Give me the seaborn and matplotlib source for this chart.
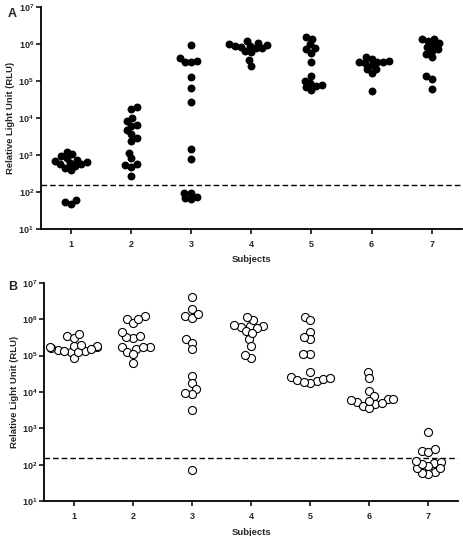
import numpy as np
import pandas as pd
import matplotlib
matplotlib.use("Agg")
import matplotlib.pyplot as plt
import seaborn as sns

# Panel A: filled circles, RLU per subject
a_s1 = [1220, 555, 450, 655, 726, 912, 840, 391, 555, 1030, 511, 668, 600, 60, 48, 52]
a_s2 = [9680, 6530, 3580, 1146, 521, 17660, 6140, 2414, 822, 269, 4690, 568, 19190, 8030, 2790, 481]
a_s3 = [923000, 342000, 328000, 403000, 321000, 129000, 62500, 27300, 1410, 773, 71, 95, 95, 64, 67]
a_s4 = [1050000, 850000, 780000, 1150000, 930000, 830000, 590000, 870000, 750000,
        1000000, 640000, 360000, 256000]
a_s5 = [1340000, 782000, 1486000, 962000, 705000, 573000, 315000, 134600, 72300, 85300,
        98600, 76900, 66500, 56400]
a_s6 = [321000, 208000, 267000, 394000, 166000, 295000, 429000, 208000, 321000, 54000,
        330000, 350000]
a_s7 = [1368000, 649000, 1207000, 832000, 719000, 1368000, 962000, 527000, 447000, 132000,
        109000, 58700, 1023000]

# Panel B: open circles
b_s1 = [344000, 168000, 122000, 296000, 183000, 83800, 133000, 142000, 390000, 122000,
        183000, 161000, 170000, 150000, 130000, 200000]
b_s2 = [1216000, 986000, 168000, 128000, 798000, 309000, 344000, 316000, 154000, 175000,
        61100, 1029000, 443000, 168000, 108000]
b_s3 = [3956000, 1933000, 1216000, 1094000, 1352000, 279000, 226000, 148000, 27400, 17300,
        12300, 8610, 9180, 3200, 72]
b_s4 = [619000, 279000, 647000, 944000, 1117000, 471000, 688000, 647000, 559000, 407000,
        187000, 83800, 103000]
b_s5 = [1167000, 926000, 434000, 279000, 330000, 110000, 110000, 35300, 20000, 22700,
        25200, 24200, 22000, 17300, 18800]
b_s6 = [36100, 24200, 10900, 7750, 6280, 4680, 5420, 5080, 4210, 6280, 3710, 5800, 6000]
b_s7 = [813, 245, 220, 266, 115, 122, 93, 62, 56, 60, 80, 80, 105, 130]

subjects = ["1", "2", "3", "4", "5", "6", "7"]
cutoff = 150


def to_frame(groups):
    rows = []
    for subj, vals in zip(subjects, groups):
        for v in vals:
            rows.append({"Subjects": subj, "RLU": v})
    return pd.DataFrame(rows)


df_a = to_frame([a_s1, a_s2, a_s3, a_s4, a_s5, a_s6, a_s7])
df_b = to_frame([b_s1, b_s2, b_s3, b_s4, b_s5, b_s6, b_s7])

sns.set_style("ticks")
plt.rcParams["font.family"] = ["Liberation Sans", "DejaVu Sans"]
plt.rcParams["mathtext.fontset"] = "custom"
plt.rcParams["mathtext.rm"] = "Liberation Sans:bold"
plt.rcParams["mathtext.it"] = "Liberation Sans:bold"
plt.rcParams["mathtext.bf"] = "Liberation Sans:bold"

fig = plt.figure(figsize=(4.63, 5.36), dpi=100)
ax_a = fig.add_axes([0.0886, 0.5728, 0.9086, 0.4147])
ax_b = fig.add_axes([0.0957, 0.0647, 0.8935, 0.4078])


def swarm(ax, df, layout_size, shown_size, **kws):
    # lay the swarm out with smaller markers so the shown markers
    # overlap a little, like the Prism-style original
    ax.set_yscale("log")
    ax.set_ylim(10, 1e7)
    sns.swarmplot(data=df, x="Subjects", y="RLU", order=subjects, ax=ax,
                  size=layout_size, **kws)
    ax.set_xlim(-0.5, 6.5)
    fig.canvas.draw()
    for coll in ax.collections:
        coll.__dict__.pop("draw", None)
        coll.set_sizes([shown_size ** 2])


def style_axis(ax):
    ax.set_ylim(10, 1e7)
    ax.set_xlim(-0.5, 6.5)
    ax.yaxis.set_major_locator(matplotlib.ticker.LogLocator(base=10, numticks=10))
    ax.yaxis.set_minor_locator(matplotlib.ticker.NullLocator())
    for side in ["top", "right"]:
        ax.spines[side].set_visible(False)
    for side in ["left", "bottom"]:
        ax.spines[side].set_linewidth(1.3)
        ax.spines[side].set_color("black")
    ax.tick_params(axis="both", length=3.6, width=1.1, color="black", labelsize=6.5)
    ax.tick_params(axis="y", pad=1.5)
    ax.tick_params(axis="x", pad=4)
    ax.axhline(cutoff, color="black", lw=1.0, dashes=(4, 2.2))
    ax.set_xlabel("Subjects", fontsize=6.8, fontweight="bold", labelpad=5)
    ax.set_ylabel("Relative Light Unit (RLU)", fontsize=6.8, fontweight="bold", labelpad=2)
    for lbl in ax.get_xticklabels() + ax.get_yticklabels():
        lbl.set_fontweight("bold")


swarm(ax_a, df_a, 4.2, 5.7, color="black", linewidth=0)
style_axis(ax_a)

swarm(ax_b, df_b, 3.9, 5.8, color="white", edgecolor="black", linewidth=0.8)
style_axis(ax_b)

fig.text(0.017, 0.985, "A", fontsize=9, fontweight="bold", va="top", ha="left")
fig.text(0.017, 0.475, "B", fontsize=9, fontweight="bold", va="top", ha="left")

fig.savefig("out.png", dpi=100)
